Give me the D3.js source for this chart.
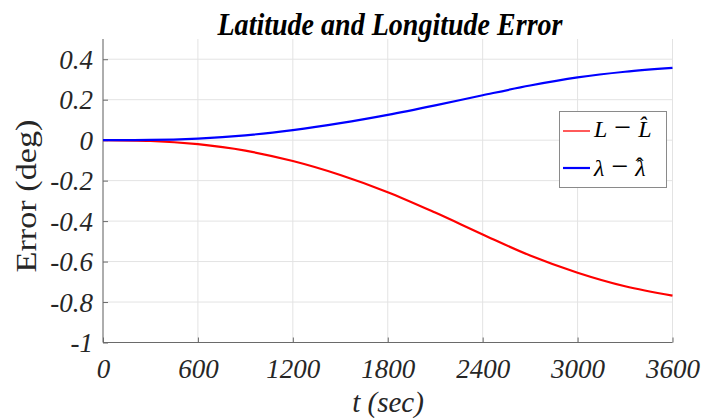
<!DOCTYPE html>
<html><head><meta charset="utf-8">
<script src="https://cdn.jsdelivr.net/npm/d3@7"></script>
<style>body{margin:0;background:#fff}svg{display:block}</style>
</head><body>
<script>
const tSec = [0,300,600,900,1200,1500,1800,2100,2400,2700,3000,3300,3600];
const latErr = [0,-0.004,-0.02,-0.052,-0.103,-0.172,-0.257,-0.358,-0.466,-0.57,-0.655,-0.722,-0.768];
const lonErr = [0,0.001,0.008,0.024,0.05,0.084,0.125,0.172,0.222,0.27,0.31,0.338,0.357];
const xTicks = [0,600,1200,1800,2400,3000,3600];
const yTicks = [-1,-0.8,-0.6,-0.4,-0.2,0,0.2,0.4];
const yTickLabels = ["-1","-0.8","-0.6","-0.4","-0.2","0","0.2","0.4"];
const titleText = "Latitude and Longitude Error";
const xLabel = "t (sec)";
const yLabel = "Error  (deg)";
const legendSymbols = ["L","λ"];

const W=721,H=419;
const svg=d3.select("body").append("svg").attr("width",W).attr("height",H);
const x=d3.scaleLinear().domain([0,3600]).range([103,672.5]);
const y=d3.scaleLinear().domain([-1,0.5]).range([342.5,39]);
const serif='Liberation Serif';

// grid
svg.append("g").selectAll("line").data(xTicks).join("line")
  .attr("x1",d=>x(d)).attr("x2",d=>x(d)).attr("y1",y(-1)).attr("y2",y(0.5))
  .attr("stroke","#e3e3e3").attr("stroke-width",1);
svg.append("g").selectAll("line").data(yTicks).join("line")
  .attr("x1",x(0)).attr("x2",x(3600)).attr("y1",d=>y(d)).attr("y2",d=>y(d))
  .attr("stroke","#e3e3e3").attr("stroke-width",1);

// axes
const xa=d3.axisBottom(x).tickValues(xTicks).tickSize(-5).tickFormat(d=>String(d));
const gx=svg.append("g").attr("transform",`translate(0,${y(-1)})`).call(xa);
gx.select(".domain").attr("stroke","#6a6a6a").attr("d",`M${x(0)},0H${x(3600)}`);
gx.selectAll(".tick line").attr("stroke","#6a6a6a");
gx.selectAll("text").attr("font-family",serif).attr("font-style","italic").attr("font-size",27).attr("fill","#262626")
  .attr("y",35.5).attr("dy",null);

const ya=d3.axisLeft(y).tickValues(yTicks).tickSize(-5).tickFormat((d,i)=>yTickLabels[i]);
const gy=svg.append("g").attr("transform",`translate(${x(0)},0)`).call(ya);
gy.select(".domain").attr("stroke","#6a6a6a").attr("d",`M0,${y(0.5)}V${y(-1)}`);
gy.selectAll(".tick line").attr("stroke","#6a6a6a");
gy.selectAll("text").attr("font-family",serif).attr("font-style","italic").attr("font-size",27).attr("fill","#262626")
  .attr("x",-10).attr("y",9).attr("dy",null);

// lines
const line=d3.line().x((d,i)=>x(tSec[i])).y(d=>y(d)).curve(d3.curveMonotoneX);
svg.append("path").attr("d",line(latErr)).attr("fill","none").attr("stroke","#ff0000").attr("stroke-width",2.2);
svg.append("path").attr("d",line(lonErr)).attr("fill","none").attr("stroke","#0000ff").attr("stroke-width",2.2);

// title
svg.append("text").attr("x",390).attr("y",35).attr("text-anchor","middle")
  .attr("font-family",serif).attr("font-weight","bold").attr("font-style","italic").attr("font-size",31)
  .attr("textLength",345).attr("lengthAdjust","spacingAndGlyphs").attr("fill","#000").text(titleText);

// x label
svg.append("text").attr("x",388).attr("y",412).attr("text-anchor","middle")
  .attr("font-family",serif).attr("font-style","italic").attr("font-size",29).attr("fill","#262626").text(xLabel);
// y label
svg.append("text").attr("transform","translate(36,196) rotate(-90)").attr("text-anchor","middle")
  .attr("font-family",serif).attr("font-size",29).attr("fill","#262626")
  .attr("textLength",153).attr("lengthAdjust","spacingAndGlyphs").text(yLabel);

// legend
const lg=svg.append("g");
lg.append("rect").attr("x",559.5).attr("y",111.5).attr("width",107).attr("height",76)
  .attr("fill","#fff").attr("stroke","#8a8a8a").attr("stroke-width",1);
const legColors=["#ff0000","#0000ff"];
const legLineW=[1.3,2.2];
const legLineY=[131,168];
const legBase=[137,176];
legendSymbols.forEach((sym,i)=>{
  lg.append("line").attr("x1",563).attr("x2",590).attr("y1",legLineY[i]).attr("y2",legLineY[i]).attr("stroke",legColors[i]).attr("stroke-width",legLineW[i]);
  const t=lg.append("text").attr("x",594).attr("y",legBase[i]).attr("font-family",serif).attr("font-size",24).attr("fill","#000");
  t.append("tspan").attr("font-style","italic").text(sym);
  t.append("tspan").attr("dx",7).attr("font-size",30).text("−");
  if(i===0){
    t.append("tspan").attr("dx",7).attr("font-style","italic").text(sym+"\u0302");
  } else {
    const s=t.append("tspan").attr("dx",7).attr("font-style","italic").text(sym);
    const w=s.node().getComputedTextLength();
    t.append("tspan").attr("dx",-(w/2+5)).attr("dy",-2).text("ˆ");
  }
});
</script>
</body></html>
